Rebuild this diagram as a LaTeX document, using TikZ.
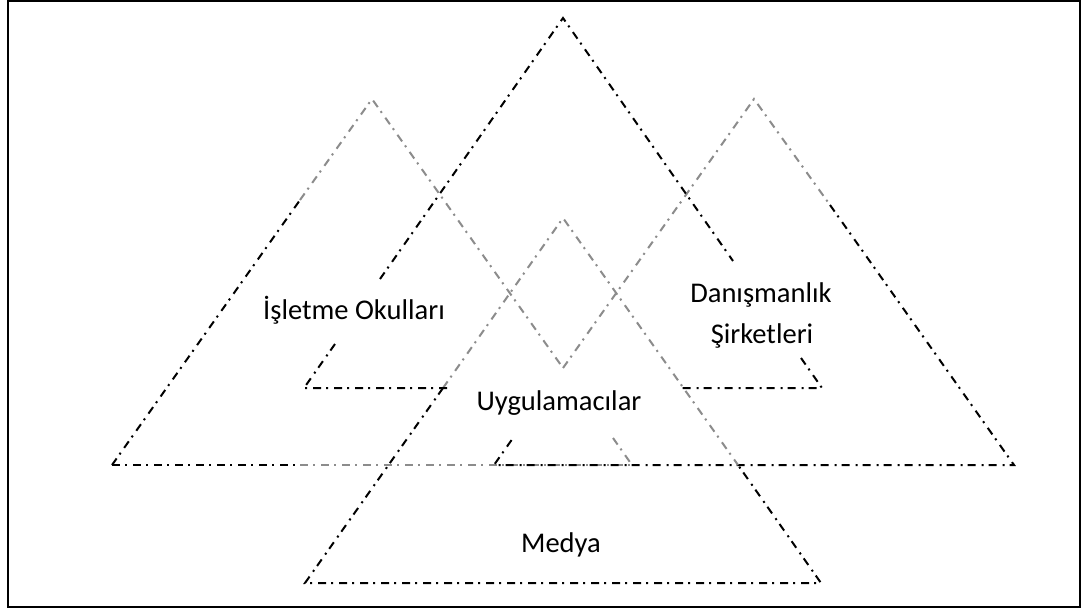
\documentclass[tikz,border=0pt]{standalone}
\usepackage{fontspec}
\setmainfont{Carlito}
\usetikzlibrary{calc}

\begin{document}
\begin{tikzpicture}[x=0.75pt,y=-0.75pt,
  ddot/.style={line width=1.5pt, dash pattern=on 6pt off 3.75pt on 1.5pt off 4.5pt},
  dark/.style={ddot, draw=black},
  pale/.style={ddot, draw=black!45},
  txt/.style={font=\fontsize{21.4}{30}\selectfont, text=black, inner sep=0pt, anchor=base}]
\useasboundingbox (0,0) rectangle (1087,610);
\fill[white] (0,0) rectangle (1087,610);
% outer frame
\draw[line width=1.5pt] (7.5,1.5) rectangle (1080,606.5);

% corners of the four triangles
\coordinate (Aa) at (372,99);  \coordinate (Al) at (112,465); \coordinate (Ar) at (632,465);
\coordinate (Ba) at (563,18);  \coordinate (Bl) at (304,388); \coordinate (Br) at (822,388);
\coordinate (Ca) at (754,99);  \coordinate (Cl) at (494,465); \coordinate (Cr) at (1014,465);
\coordinate (Da) at (563,218); \coordinate (Dl) at (305,583); \coordinate (Dr) at (821,583);

% left triangle
\draw[dark] (Al) -- (300,200);
\draw[pale] (300,200) -- (Aa) -- (563,368);
\draw[pale] (613,438) -- (Ar);
\draw[dark] (Al) -- (300,465);
\draw[pale] (300,465) -- (Ar);

% right triangle
\draw[pale] (563,368) -- (Ca) -- (830,205);
\draw[dark] (830,205) -- (Cr) -- (Cl) -- (513,438);

% bottom triangle
\draw[pale] (443,388) -- (Da) -- (738,465);
\draw[dark] (443,388) -- (Dl) -- (Dr) -- (738,465);

% top triangle
\draw[dark] (380,279) -- (Ba) -- (733,261);
\draw[dark] (335,344) -- (Bl) -- (447,388);
\draw[dark] (801,358) -- (Br) -- (678,388);

% captions
\node[txt] (okul) at (354,319) {İşletme Okulları};
\node[txt] (dan) at (761,302) {Danışmanlık};
\node[txt] (sir) at (762,343) {Şirketleri};
\node[txt] (uyg) at (559,410) {Uygulamacılar};
\node[txt] (med) at (561,552) {Medya};
\end{tikzpicture}
\end{document}
